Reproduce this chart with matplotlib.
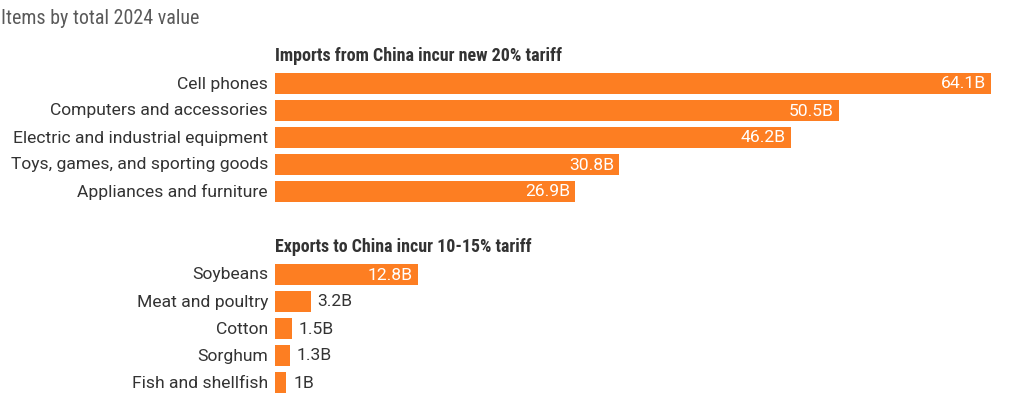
import matplotlib
matplotlib.use("Agg")
import matplotlib.pyplot as plt
from matplotlib import font_manager

title = "Items by total 2024 value"
import_heading = "Imports from China incur new 20% tariff"
import_items = ["Cell phones", "Computers and accessories", "Electric and industrial equipment",
                "Toys, games, and sporting goods", "Appliances and furniture"]
import_values = [64.1, 50.5, 46.2, 30.8, 26.9]
import_labels = ["64.1B", "50.5B", "46.2B", "30.8B", "26.9B"]

export_heading = "Exports to China incur 10-15% tariff"
export_items = ["Soybeans", "Meat and poultry", "Cotton", "Sorghum", "Fish and shellfish"]
export_values = [12.8, 3.2, 1.5, 1.3, 1.0]
export_labels = ["12.8B", "3.2B", "1.5B", "1.3B", "1B"]

names = {f.name for f in font_manager.fontManager.ttflist}
narrow = "Roboto"
for cand in ["Liberation Sans Narrow", "Roboto Condensed", "Open Sans Condensed",
             "Noto Sans Condensed", "DejaVu Sans Condensed", "Arial Narrow"]:
    if cand in names:
        narrow = cand
        break
body = "Roboto" if "Roboto" in names else "DejaVu Sans"

ORANGE = "#FD7E22"
DARK = "#333333"

W, H = 1024, 401
fig = plt.figure(figsize=(W / 100, H / 100), dpi=100)
renderer = fig.canvas.get_renderer()
x0 = 275
px_per_unit = 11.17
ax = fig.add_axes([x0 / W, 0, 1 - x0 / W, 1])
ax.set_xlim(0, (W - x0) / px_per_unit)
ax.set_ylim(H, 0)
ax.axis("off")


def fit(t, target_px):
    w = t.get_window_extent(renderer).width
    t.set_fontsize(t.get_fontsize() * target_px / w)


t = fig.text(1 / W, 1 - 19 / H, title, family=narrow, fontsize=14, color="#5a5a5a",
             ha="left", va="center")
fit(t, 199)

pitch = 27
bar_h = 21


def draw_group(heading, items, values, labels, head_y, first_y, head_w):
    h = ax.text(0, head_y, heading, family=narrow, fontweight="bold", fontsize=12,
                color=DARK, ha="left", va="center")
    fit(h, head_w)
    ys = [first_y + i * pitch for i in range(len(items))]
    ax.barh(ys, values, height=bar_h, color=ORANGE, left=0)
    for y, item, v, lab in zip(ys, items, values, labels):
        ax.annotate(item, (0, y), xytext=(-7, -1), textcoords="offset pixels",
                    ha="right", va="center", fontsize=12.6, family=body, color=DARK)
        if v > 8:
            ax.annotate(lab, (v, y), xytext=(-5, -1), textcoords="offset pixels",
                        ha="right", va="center", fontsize=12.6, family=body, color="white")
        else:
            ax.annotate(lab, (v, y), xytext=(7, -1), textcoords="offset pixels",
                        ha="left", va="center", fontsize=12.6, family=body, color=DARK)


draw_group(import_heading, import_items, import_values, import_labels, 56, 83, 288)
draw_group(export_heading, export_items, export_values, export_labels, 247, 274, 256)

fig.savefig("out.png", dpi=100)
